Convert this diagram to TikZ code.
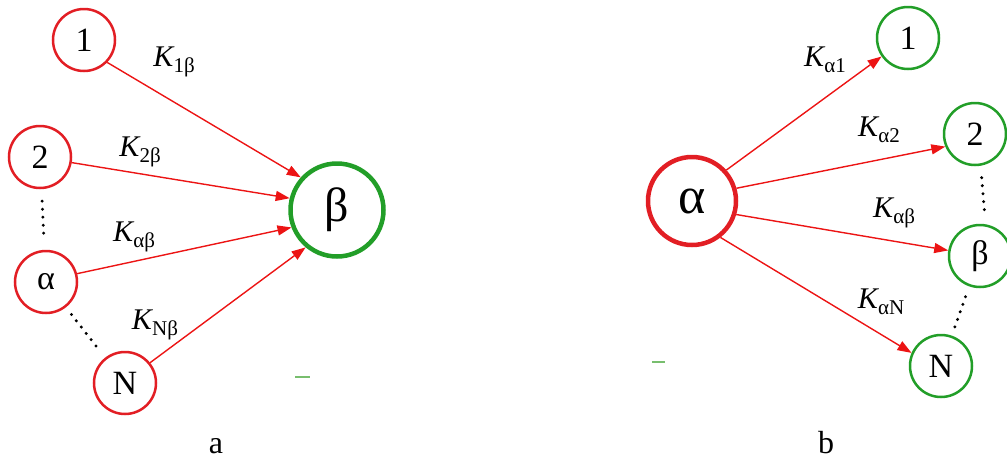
\documentclass[tikz,border=0pt]{standalone}
\usepackage{fontspec}
\setmainfont{Liberation Serif}
\usetikzlibrary{arrows.meta}
\definecolor{cred}{RGB}{226,30,36}
\definecolor{ared}{RGB}{236,20,20}
\definecolor{cgreen}{RGB}{34,158,40}
\definecolor{lgreen}{RGB}{120,190,110}
\newcommand{\Klab}[1]{\fontsize{30}{30}\selectfont\textit{K}\kern-1pt\raisebox{-6pt}{\fontsize{21}{21}\selectfont #1}}
\tikzset{
  smallred/.style={circle,draw=cred,line width=2.5pt,minimum size=62pt,inner sep=0pt,font=\fontsize{34}{34}\selectfont},
  smallgreen/.style={circle,draw=cgreen,line width=2.5pt,minimum size=62pt,inner sep=0pt,font=\fontsize{34}{34}\selectfont},
  biggreen/.style={circle,draw=cgreen,line width=4.5pt,minimum size=93pt,inner sep=0pt,font=\fontsize{48}{48}\selectfont},
  bigred/.style={circle,draw=cred,line width=4.5pt,minimum size=88pt,inner sep=0pt,font=\fontsize{52}{52}\selectfont},
  link/.style={draw=ared,line width=1.4pt,-{Triangle[length=14pt,width=10pt]}},
  dots/.style={draw=black,line width=3.3pt,line cap=round,dash pattern=on 0pt off 8pt},
  klabel/.style={inner sep=0pt,anchor=center},
  panel/.style={font=\fontsize{32}{32}\selectfont,inner sep=0pt,anchor=base}
}
\begin{document}
\begin{tikzpicture}[x=1pt,y=-1pt]
\useasboundingbox (0,0) rectangle (1007,464);
% ---- panel a ----
\node[smallred] (l1) at (84,40) {1};
\node[smallred] (l2) at (40,157) {2};
\node[smallred] (la) at (46,282) {α};
\node[smallred] (lN) at (125,383) {N};
\node[biggreen] (lb) at (337,210) {β};
\draw[link] (l1.316) -- (lb.138);
\draw[link] (l2.350) -- (lb.166);
\draw[link] (la.15) -- (lb.201);
\draw[link] (lN.39) -- (lb.230);
\draw[dots,shorten <=12pt,shorten >=11pt] (l2) -- (la);
\draw[dots,shorten <=9pt,shorten >=14pt] (la) -- (lN);
\node[klabel] (k1) at (174,62) {\Klab{1β}};
\node[klabel] (k2) at (140,152) {\Klab{2β}};
\node[klabel] (k3) at (134,237) {\Klab{αβ}};
\node[klabel] (k4) at (155,325) {\Klab{Nβ}};
\draw[lgreen,line width=2pt] (295,377) -- (310,377);
\node[panel] (pa) at (216,453) {a};
% ---- panel b ----
\node[bigred] (ra) at (692,201) {α};
\node[smallgreen] (r1) at (908,38) {1};
\node[smallgreen] (r2) at (975,134) {2};
\node[smallgreen] (rb) at (980,256) {β};
\node[smallgreen] (rN) at (941,366) {N};
\draw[link] (ra.42) -- (r1.215);
\draw[link] (ra.16) -- (r2.203);
\draw[link] (ra.343) -- (rb.170);
\draw[link] (ra.308) -- (rN.156);
\draw[dots,shorten <=12pt,shorten >=8pt] (r2.-80) -- (rb.80);
\draw[dots,shorten <=11pt,shorten >=9pt] (rb) -- (rN);
\node[klabel] (m1) at (825,60) {\Klab{α1}};
\node[klabel] (m2) at (879,130) {\Klab{α2}};
\node[klabel] (m3) at (894,213) {\Klab{αβ}};
\node[klabel] (m4) at (881,302) {\Klab{αN}};
\draw[lgreen,line width=2pt] (652,362) -- (665,362);
\node[panel] (pb) at (826,453) {b};
\end{tikzpicture}
\end{document}
